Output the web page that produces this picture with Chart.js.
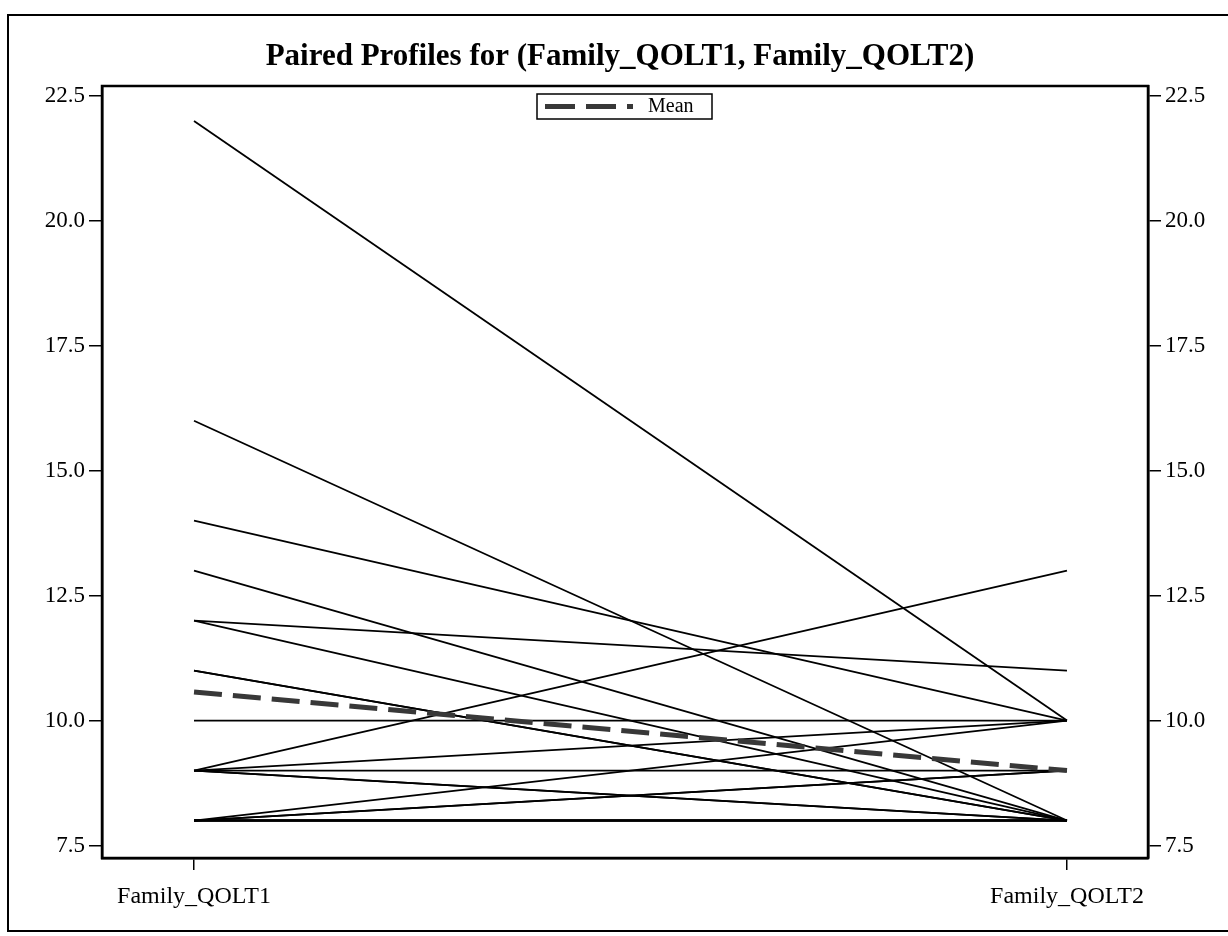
<!DOCTYPE html>
<html>
<head>
<meta charset="utf-8">
<script src="https://cdn.jsdelivr.net/npm/chart.js@4.4.0/dist/chart.umd.min.js"></script>
<style>
  html, body { margin: 0; padding: 0; background: #fff; }
  #wrap { width: 1228px; height: 936px; }
</style>
</head>
<body>
<div id="wrap"><canvas id="graphProfiles" width="1228" height="936"></canvas></div>
<script>
// Données (une ligne par sujet)
const timeLabels = ['Family_QOLT1', 'Family_QOLT2'];
const qolT1 = [22, 16, 14, 13, 12, 12, 11, 11, 10, 9, 9, 9, 9, 9, 8, 8, 8, 8, 8, 8, 8];
const qolT2 = [10, 8, 10, 8, 11, 8, 8, 8, 10, 13, 10, 9, 8, 8, 10, 9, 9, 8, 8, 8, 8];
const yTicks = [7.5, 10.0, 12.5, 15.0, 17.5, 20.0, 22.5];
const titleText = 'Paired Profiles for (Family_QOLT1, Family_QOLT2)';
const meanLabel = 'Mean';

const mean = arr => arr.reduce((a, b) => a + b, 0) / arr.length;
const meanValues = [mean(qolT1), mean(qolT2)];

Chart.defaults.font.family = "'Liberation Serif', 'DejaVu Serif', serif";
Chart.defaults.color = '#000';

const datasets = [{
    label: meanLabel,
    data: timeLabels.map((_, i) => ({ x: i, y: meanValues[i] })),
    borderColor: '#383838',
    borderWidth: 5,
    borderDash: [28, 11],
    pointRadius: 0,
    fill: false
}];
qolT1.forEach((v, i) => {
    datasets.push({
        label: 'Sujet ' + (i + 1),
        data: [{ x: 0, y: v }, { x: 1, y: qolT2[i] }],
        borderColor: '#000',
        borderWidth: 1.8,
        pointRadius: 0,
        fill: false
    });
});

// Cadre, titre et légende dessinés à la main
const decor = {
    id: 'decor',
    beforeDraw(chart) {
        const c = chart.ctx;
        c.save();
        c.fillStyle = '#fff';
        c.fillRect(0, 0, chart.width, chart.height);
        c.restore();
    },
    afterDraw(chart) {
        const c = chart.ctx;
        const a = chart.chartArea;
        c.save();
        c.strokeStyle = '#000';
        c.lineWidth = 2.5;
        c.strokeRect(a.left, a.top, a.right - a.left, a.bottom - a.top);

        c.lineWidth = 2;
        c.strokeRect(8, 15, 1240, 916);

        c.fillStyle = '#000';
        c.font = "bold 31px 'Liberation Serif'";
        c.textAlign = 'center';
        c.textBaseline = 'middle';
        c.fillText(titleText, 620, 57);

        // Légende
        c.fillStyle = '#fff';
        c.fillRect(537, 94, 175, 25);
        c.lineWidth = 1.5;
        c.strokeRect(537, 94, 175, 25);
        c.strokeStyle = '#383838';
        c.lineWidth = 5;
        c.setLineDash([30, 11]);
        c.beginPath();
        c.moveTo(545, 106.5);
        c.lineTo(633, 106.5);
        c.stroke();
        c.setLineDash([]);
        c.fillStyle = '#000';
        c.font = "20px 'Liberation Serif'";
        c.textAlign = 'left';
        c.fillText(meanLabel, 648, 107);
        c.restore();
    }
};

const yAxis = (pos, w) => ({
    type: 'linear',
    position: pos,
    min: 7.25,
    max: 22.7,
    afterBuildTicks: s => { s.ticks = yTicks.map(v => ({ value: v })); },
    afterFit: s => { s.width = w; },
    ticks: {
        callback: v => Number(v).toFixed(1),
        font: { size: 23 },
        color: '#000',
        padding: 4
    },
    grid: { display: true, drawOnChartArea: false, drawTicks: true, tickLength: 13, color: '#000', lineWidth: 1.5 },
    border: { display: true, color: '#000', width: 2.5 }
});

new Chart(document.getElementById('graphProfiles').getContext('2d'), {
    type: 'line',
    data: { datasets: datasets },
    options: {
        responsive: false,
        animation: false,
        layout: { padding: { top: 86, bottom: 21, left: 0, right: 0 } },
        plugins: { legend: { display: false }, title: { display: false }, tooltip: { enabled: false } },
        scales: {
            x: {
                type: 'linear',
                min: -0.1054,
                max: 1.0928,
                afterBuildTicks: s => { s.ticks = [{ value: 0 }, { value: 1 }]; },
                afterFit: s => { s.height = 57; },
                ticks: {
                    callback: v => timeLabels[v],
                    font: { size: 24 },
                    color: '#000',
                    padding: 12,
                    maxRotation: 0
                },
                grid: { display: true, drawOnChartArea: false, drawTicks: true, tickLength: 12, color: '#000', lineWidth: 1.5 },
                border: { display: true, color: '#000', width: 2.5 }
            },
            y: yAxis('left', 102),
            y2: yAxis('right', 80)
        }
    },
    plugins: [decor]
});
</script>
</body>
</html>
